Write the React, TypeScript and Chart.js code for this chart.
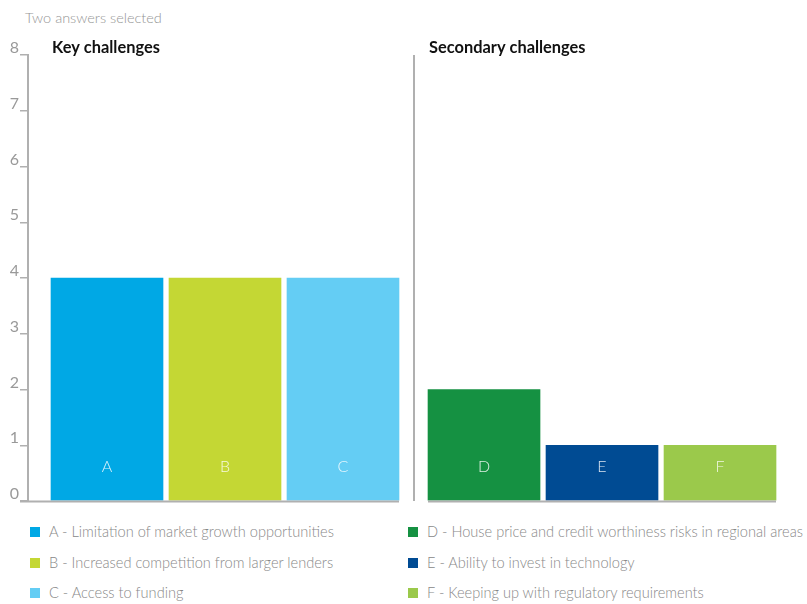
import React, { useEffect, useRef } from "react";
import { Chart, registerables } from "chart.js";

Chart.register(...registerables);

// ---- data ----
const keyCategories = ["A", "B", "C"];
const keyValues = [4, 4, 4];
const keyColors = ["#00a8e5", "#c4d734", "#64cdf4"];
const secondaryCategories = ["D", "E", "F"];
const secondaryValues = [2, 1, 1];
const secondaryColors = ["#159142", "#004b93", "#9bc94b"];
const groupTitles = ["Key challenges", "Secondary challenges"];
const legendLabels = [
  "A - Limitation of market growth opportunities",
  "B - Increased competition from larger lenders",
  "C - Access to funding",
  "D - House price and credit worthiness risks in regional areas",
  "E - Ability to invest in technology",
  "F - Keeping up with regulatory requirements",
];
const subtitle = "Two answers selected";
const yTicks = [0, 1, 2, 3, 4, 5, 6, 7, 8];

const FONT = "Lato, 'Open Sans', sans-serif";
const GROUP_GAP = 0.195;
const categories = [...keyCategories, ...secondaryCategories];
const values = [...keyValues, ...secondaryValues];
const colors = [...keyColors, ...secondaryColors];
const positions = categories.map((_, i) => i + (i >= keyCategories.length ? GROUP_GAP : 0));

const decorPlugin = {
  id: "decor",
  afterDatasetsDraw(chart: any) {
    const { ctx, chartArea } = chart;
    const meta = chart.getDatasetMeta(0);
    const bars = meta.data;
    const half = (bars[0].width || 112) / 2;
    const nKey = keyCategories.length;
    ctx.save();
    // baseline segments
    ctx.strokeStyle = "#b0b0b0";
    ctx.lineWidth = 2;
    const y0 = chartArea.bottom + 0.5;
    ctx.beginPath();
    ctx.moveTo(chartArea.left - 8, y0);
    ctx.lineTo(bars[nKey - 1].x + half, y0);
    ctx.moveTo(bars[nKey].x - half, y0);
    ctx.lineTo(bars[bars.length - 1].x + half, y0);
    ctx.stroke();
    // divider
    const dx = Math.round((bars[nKey - 1].x + bars[nKey].x) / 2);
    ctx.beginPath();
    ctx.moveTo(dx, chartArea.top);
    ctx.lineTo(dx, chartArea.bottom);
    ctx.stroke();
    // group titles
    ctx.fillStyle = "#111111";
    ctx.font = `bold 16.4px ${FONT}`;
    ctx.textBaseline = "alphabetic";
    ctx.textAlign = "left";
    ctx.fillText(groupTitles[0], bars[0].x - half + 1, chartArea.top - 2);
    ctx.fillText(groupTitles[1], bars[nKey].x - half + 1, chartArea.top - 2);
    // bar letters
    ctx.fillStyle = "rgba(255,255,255,0.85)";
    ctx.font = `300 16px ${FONT}`;
    ctx.textAlign = "center";
    ctx.textBaseline = "middle";
    bars.forEach((b: any, i: number) => {
      ctx.fillText(categories[i], b.x, chartArea.bottom - 34);
    });
    ctx.restore();
  },
};

export default function App() {
  const ref = useRef<HTMLCanvasElement | null>(null);
  useEffect(() => {
    if (!ref.current) return;
    const chart = new Chart(ref.current, {
      type: "bar",
      data: {
        datasets: [
          {
            data: positions.map((p, i) => ({ x: p, y: values[i] })),
            backgroundColor: colors,
            borderWidth: 0,
            barThickness: 112,
          },
        ],
      },
      options: {
        animation: false,
        responsive: false,
        maintainAspectRatio: false,
        layout: { padding: { top: 55, bottom: 14, left: 0, right: 0 } },
        plugins: { legend: { display: false }, tooltip: { enabled: false } },
        scales: {
          x: {
            type: "linear",
            display: false,
            offset: false,
            bounds: "data",
            min: -79 / 118,
            max: -79 / 118 + 779 / 118,
          },
          y: {
            min: 0,
            max: 8,
            afterFit: (s: any) => {
              s.width = 28;
            },
            afterBuildTicks: (s: any) => {
              s.ticks = yTicks.map((v) => ({ value: v }));
            },
            grid: {
              drawOnChartArea: false,
              drawTicks: true,
              tickLength: 8,
              color: "#b0b0b0",
              lineWidth: 1.5,
            },
            border: { display: true, color: "#b0b0b0", width: 2 },
            ticks: {
              color: "#999999",
              font: { family: FONT, size: 16, weight: "400" as any },
              padding: 1,
              labelOffset: -7,
            },
          },
        },
      },
      plugins: [decorPlugin],
    });
    return () => chart.destroy();
  }, []);

  const textStyle: React.CSSProperties = {
    position: "absolute",
    fontFamily: FONT,
    fontWeight: 300,
    fontSize: 14.6,
    color: "#888888",
    whiteSpace: "nowrap",
    lineHeight: "20px",
  };
  const rowTops = [522, 553, 583];
  return (
    <div style={{ position: "fixed", left: 0, top: 0, width: 807, height: 604, background: "#fff", overflow: "hidden" }}>
      <div style={{ ...textStyle, left: 25, top: 8, fontSize: 14.5, color: "#959595" }}>{subtitle}</div>
      <canvas ref={ref} width={807} height={515} style={{ position: "absolute", left: 0, top: 0 }} />
      {legendLabels.map((label, i) => {
        const col = i < 3 ? 0 : 1;
        const row = i % 3;
        const left = col === 0 ? 30 : 408;
        return (
          <div key={label} style={{ ...textStyle, left, top: rowTops[row] }}>
            <span
              style={{
                display: "inline-block",
                width: 10,
                height: 10,
                background: colors[i],
                marginRight: 9,
                verticalAlign: "middle",
                position: "relative",
                top: -1,
              }}
            />
            {label}
          </div>
        );
      })}
    </div>
  );
}
